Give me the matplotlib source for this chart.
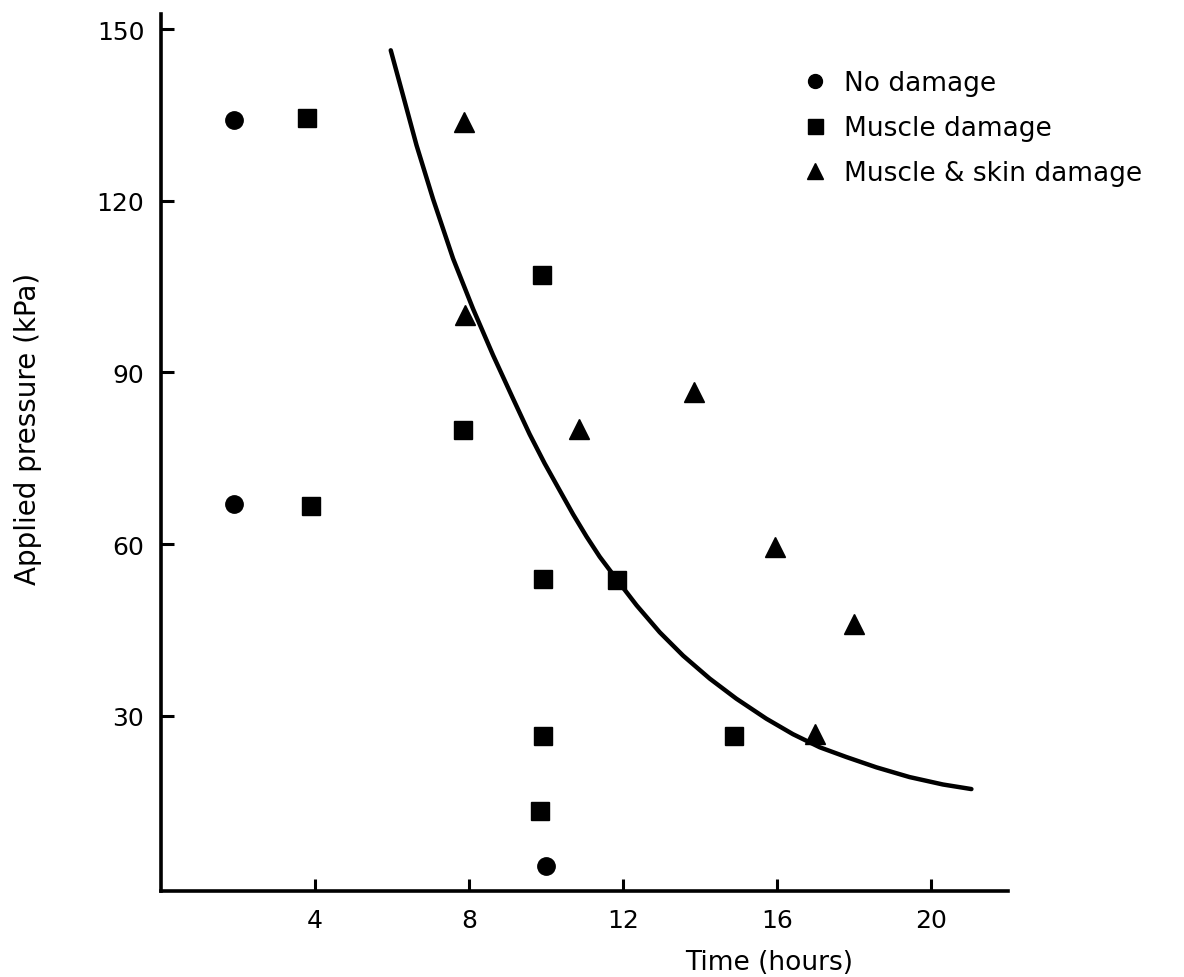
import matplotlib
matplotlib.use("Agg")
import matplotlib.pyplot as plt

no_damage_t = [1.9, 1.9, 10.0]
no_damage_p = [134.1, 67.0, 3.8]

muscle_t = [3.8, 3.9, 9.9, 7.85, 9.93, 11.85, 9.93, 14.9, 9.84]
muscle_p = [134.4, 66.7, 107.0, 79.9, 53.9, 53.8, 26.4, 26.5, 13.4]

skin_t = [7.88, 7.91, 13.84, 10.87, 15.95, 18.0, 16.99]
skin_p = [133.8, 100.0, 86.6, 80.2, 59.5, 46.1, 26.8]

# threshold curve
curve_t = [5.97, 6.29, 6.64, 7.07, 7.59, 8.11, 8.63, 9.15, 9.58, 9.97, 10.36, 10.71,
           11.06, 11.40, 11.88, 12.36, 12.96, 13.57, 14.26, 14.95, 15.73, 16.42,
           17.12, 17.81, 18.59, 19.45, 20.32, 21.06]
curve_p = [146.3, 138.4, 129.7, 120.3, 109.9, 101.1, 93.0, 85.4, 79.2, 74.1, 69.4, 65.2,
           61.3, 57.8, 53.5, 49.3, 44.6, 40.5, 36.5, 33.0, 29.5, 26.8,
           24.5, 22.8, 21.0, 19.3, 18.0, 17.2]

x_ticks = [4, 8, 12, 16, 20]
y_ticks = [30, 60, 90, 120, 150]

plt.rcParams['font.family'] = ['DejaVu Sans']
fig = plt.figure(figsize=(11.84, 9.78), dpi=100)
ax = fig.add_axes([0.136, 0.088, 0.715, 0.897])

ax.plot(curve_t, curve_p, color='black', lw=3.2, solid_capstyle='round',
        solid_joinstyle='round')
ax.plot(no_damage_t, no_damage_p, 'o', color='black', ms=12.5, ls='none', label='No damage')
ax.plot(muscle_t, muscle_p, 's', color='black', ms=13.5, ls='none', label='Muscle damage')
ax.plot(skin_t, skin_p, '^', color='black', ms=14, ls='none', label='Muscle & skin damage')

ax.set_xlim(0, 22)
ax.set_ylim(-0.6, 152.7)
ax.set_xticks(x_ticks)
ax.set_yticks(y_ticks)
ax.tick_params(direction='in', length=9, width=2.2, labelsize=18, pad=12, color='black')

for side in ['top', 'right']:
    ax.spines[side].set_visible(False)
for side in ['left', 'bottom']:
    ax.spines[side].set_linewidth(2.6)

fig.text(769 / 1184, 1 - 963 / 978, 'Time (hours)', ha='center', va='center', fontsize=19)
fig.text(28 / 1184, 1 - 429 / 978, 'Applied pressure (kPa)', ha='center', va='center',
         rotation=90, fontsize=20)

ax.legend(loc='upper left', bbox_to_anchor=(802 / 1184, 1 - 71 / 978),
          bbox_transform=fig.transFigure, frameon=False, fontsize=19,
          handlelength=1.0, handletextpad=0.6, labelspacing=0.72, borderpad=0,
          borderaxespad=0, markerscale=0.8)

fig.savefig('out.png', dpi=100, facecolor='white')
